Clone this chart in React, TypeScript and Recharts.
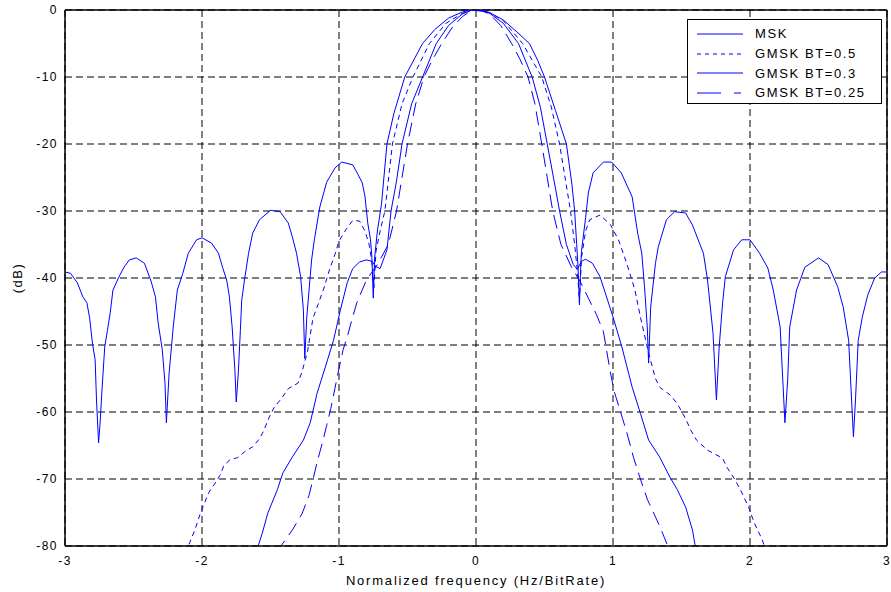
import React from "react";
import {
  LineChart,
  Line,
  XAxis,
  YAxis,
  CartesianGrid,
  ReferenceLine,
  Legend,
} from "recharts";

// frequency (normalized to bit rate) -> PSD in dB
const msk: [number, number][] = [
  [-3.0, -39.1], [-2.96, -39.3], [-2.91, -40.7], [-2.87, -42.8], [-2.84, -43.7],
  [-2.82, -46], [-2.8, -49.7], [-2.78, -52.2], [-2.77, -58.2], [-2.755, -64.6],
  [-2.745, -62], [-2.73, -56.7], [-2.71, -50.3], [-2.69, -47.8], [-2.67, -45.2],
  [-2.65, -41.8], [-2.61, -40], [-2.57, -38.4], [-2.53, -37.3], [-2.48, -37],
  [-2.42, -37.8], [-2.37, -40.6], [-2.34, -42.8], [-2.32, -46.7], [-2.29, -50.7],
  [-2.27, -55.7], [-2.26, -61.6], [-2.24, -54.2], [-2.21, -47.3], [-2.18, -41.8],
  [-2.14, -39.3], [-2.1, -36.3], [-2.04, -34.3], [-2.0, -34.0], [-1.93, -34.8],
  [-1.88, -36.3], [-1.85, -38.4], [-1.82, -40.3], [-1.8, -42.8], [-1.78, -47.3],
  [-1.76, -53.7], [-1.75, -58.5], [-1.735, -54.2], [-1.72, -47.8], [-1.71, -43.3],
  [-1.69, -40.3], [-1.66, -36.3], [-1.63, -33.3], [-1.58, -31.3], [-1.5, -29.9],
  [-1.43, -30.1], [-1.37, -31.8], [-1.34, -33.9], [-1.31, -36.3], [-1.28, -39.8],
  [-1.26, -44.8], [-1.25, -52], [-1.235, -45.8], [-1.2, -37.3], [-1.18, -34.3],
  [-1.14, -29.4], [-1.09, -25.7], [-1.03, -23.6], [-0.98, -22.7], [-0.9, -23.1],
  [-0.86, -24.6], [-0.83, -25.8], [-0.81, -27.9], [-0.79, -31.8], [-0.77, -34.3],
  [-0.76, -36.9], [-0.75, -43], [-0.74, -37], [-0.72, -33], [-0.69, -29],
  [-0.65, -20], [-0.6, -15.5], [-0.52, -10], [-0.45, -7.3], [-0.39, -5],
  [-0.3, -2.9], [-0.2, -1.2], [-0.1, -0.3], [-0.03, 0], [0.05, -0.1],
  [0.1, -0.4], [0.2, -1.5], [0.3, -3.3], [0.39, -5], [0.45, -7.5],
  [0.5, -10], [0.58, -15], [0.66, -20], [0.7, -26], [0.72, -30],
  [0.735, -35], [0.745, -38.5], [0.755, -44], [0.765, -38], [0.77, -36],
  [0.8, -31], [0.82, -27.3], [0.855, -24.3], [0.93, -22.7], [0.99, -22.7],
  [1.06, -24.3], [1.14, -27.9], [1.18, -33.3], [1.21, -36.3], [1.23, -41.3],
  [1.25, -47.3], [1.26, -52.7], [1.275, -44.3], [1.31, -37.8], [1.33, -35.4],
  [1.39, -31.3], [1.45, -30.1], [1.53, -30.3], [1.58, -32.1], [1.66, -36.3],
  [1.69, -40.3], [1.73, -48.2], [1.755, -58.2], [1.775, -50.3], [1.8, -43.7],
  [1.82, -39.8], [1.88, -35.8], [1.94, -34.3], [2.0, -34.3], [2.07, -36.3],
  [2.13, -38.5], [2.17, -41.8], [2.22, -47.3], [2.255, -61.6], [2.275, -55.2],
  [2.29, -47.3], [2.34, -41.8], [2.4, -38.4], [2.5, -37], [2.57, -38],
  [2.64, -41.3], [2.68, -44.3], [2.72, -49.3], [2.755, -63.7], [2.77, -58.2],
  [2.79, -49.3], [2.82, -45.8], [2.86, -42.5], [2.91, -40], [2.96, -39.1],
  [3.0, -39.1],
];

const gmsk05: [number, number][] = [
  [-2.12, -81], [-2.09, -79.5], [-2.05, -77.5], [-2.01, -75], [-1.98, -73.5],
  [-1.95, -72], [-1.91, -70.8], [-1.87, -69.5], [-1.84, -68], [-1.8, -67.2],
  [-1.74, -66.8], [-1.68, -65.8], [-1.63, -65.2], [-1.58, -64], [-1.55, -62.8],
  [-1.51, -60.8], [-1.47, -59.2], [-1.42, -58], [-1.37, -56.5], [-1.3, -55.7],
  [-1.27, -54], [-1.23, -51], [-1.19, -46], [-1.15, -43.8], [-1.11, -41.5],
  [-1.07, -38.8], [-1.03, -36.5], [-1.0, -34.5], [-0.95, -32.8], [-0.9, -31.4],
  [-0.85, -31.5], [-0.81, -33], [-0.78, -35], [-0.76, -37.5], [-0.745, -41.5],
  [-0.73, -36], [-0.7, -33], [-0.665, -30], [-0.61, -20], [-0.54, -14],
  [-0.46, -10], [-0.34, -5], [-0.22, -2], [-0.1, -0.5], [-0.03, 0],
  [0.05, -0.1], [0.1, -0.4], [0.2, -1.6], [0.34, -5], [0.48, -10],
  [0.55, -14.5], [0.61, -20], [0.69, -30], [0.72, -35], [0.74, -39],
  [0.755, -43.5], [0.77, -37], [0.8, -33], [0.83, -31.3], [0.905, -30.6],
  [0.98, -32], [1.04, -34.3], [1.1, -37.8], [1.16, -41.8], [1.2, -45.8],
  [1.26, -51.2], [1.31, -55], [1.34, -56.3], [1.42, -57.5], [1.47, -58.8],
  [1.53, -61], [1.57, -62.8], [1.61, -64.2], [1.69, -65.7], [1.8, -66.9],
  [1.83, -68.2], [1.89, -70.1], [1.93, -71.6], [1.99, -74.2], [2.03, -76.5],
  [2.09, -79.1], [2.12, -81],
];

const gmsk03: [number, number][] = [
  [-1.62, -81], [-1.59, -80], [-1.56, -78.1], [-1.52, -75.1], [-1.45, -71.6],
  [-1.41, -69.1], [-1.34, -66.7], [-1.26, -64.2], [-1.21, -61.6], [-1.16, -57.2],
  [-1.1, -53.3], [-1.04, -49.3], [-0.99, -44.8], [-0.94, -40.7], [-0.9, -38.6],
  [-0.85, -37.6], [-0.8, -37.3], [-0.76, -37.5], [-0.73, -38.3], [-0.7, -38.6],
  [-0.65, -35.8], [-0.62, -30], [-0.58, -25.5], [-0.54, -20], [-0.47, -14],
  [-0.39, -10], [-0.29, -5], [-0.2, -2.3], [-0.1, -0.6], [-0.03, 0],
  [0.05, -0.1], [0.1, -0.5], [0.2, -2], [0.31, -5], [0.41, -10],
  [0.47, -14.5], [0.52, -20], [0.57, -25.5], [0.61, -30], [0.66, -35],
  [0.71, -38], [0.74, -38.7], [0.77, -37.5], [0.8, -37.2], [0.85, -37.8],
  [0.905, -39.8], [1.0, -45.8], [1.065, -50.3], [1.14, -56.3], [1.2, -60.2],
  [1.26, -64.2], [1.34, -66.7], [1.42, -69.9], [1.47, -71.6], [1.53, -74.2],
  [1.58, -77.6], [1.6, -80], [1.62, -81],
];

const gmsk025: [number, number][] = [
  [-1.45, -81], [-1.42, -79.9], [-1.34, -77.6], [-1.27, -75.2], [-1.22, -72.5],
  [-1.19, -70.1], [-1.16, -67.5], [-1.12, -64.5], [-1.09, -62], [-1.06, -59.5],
  [-1.03, -56.5], [-1.0, -53.5], [-0.97, -50.7], [-0.94, -48.8], [-0.9, -45.8],
  [-0.87, -43.7], [-0.8, -40.3], [-0.72, -38], [-0.64, -35], [-0.58, -30],
  [-0.54, -25], [-0.5, -20], [-0.44, -14], [-0.38, -10], [-0.32, -7.5],
  [-0.25, -5], [-0.17, -2.5], [-0.1, -1], [-0.03, 0], [0.05, -0.2],
  [0.1, -0.6], [0.18, -2.3], [0.26, -5], [0.32, -7.3], [0.38, -10],
  [0.43, -14], [0.48, -20], [0.52, -25], [0.56, -30], [0.62, -35],
  [0.7, -38.5], [0.76, -40.5], [0.82, -43], [0.88, -45.5], [0.93, -48],
  [0.98, -54], [1.01, -57], [1.07, -61], [1.1, -63], [1.15, -66.8],
  [1.2, -70], [1.25, -73], [1.34, -77], [1.4, -80], [1.42, -81],
];

const freqTicks = [-3, -2, -1, 0, 1, 2, 3];
const dbTicks = [-80, -70, -60, -50, -40, -30, -20, -10, 0];

const BLUE = "#0000ff";
const FONT = '"Liberation Sans", Arial, Helvetica, sans-serif';

const series = [
  { name: "MSK", points: msk, dash: undefined as string | undefined, legendDash: undefined as string | undefined },
  { name: "GMSK BT=0.5", points: gmsk05, dash: "5 4", legendDash: "4 4" },
  { name: "GMSK BT=0.3", points: gmsk03, dash: undefined, legendDash: undefined },
  { name: "GMSK BT=0.25", points: gmsk025, dash: "14 7", legendDash: "24 13 7 2" },
];

const toRows = (pts: [number, number][]) => pts.map(([f, db]) => ({ f, db }));

const tickStyle = { fill: "#000", fontSize: 12, fontFamily: FONT, letterSpacing: 1.5 };

const LegendBox = () => (
  <div
    style={{
      border: "1px solid #000",
      background: "#fff",
      width: 195,
      height: 85,
      boxSizing: "border-box",
      padding: "4px 0 0 9px",
      fontFamily: FONT,
      fontSize: 13,
      letterSpacing: 1.6,
      color: "#000",
    }}
  >
    {series.map((s) => (
      <div key={s.name} style={{ display: "flex", alignItems: "center", height: 19.7 }}>
        <svg width={46} height={4} style={{ display: "block" }}>
          <line x1={0} y1={2} x2={46} y2={2} stroke={BLUE} strokeDasharray={s.legendDash} />
        </svg>
        <span style={{ marginLeft: 12, lineHeight: "19px" }}>{s.name}</span>
      </div>
    ))}
  </div>
);

export default function App() {
  return (
    <div style={{ position: "absolute", left: 0, top: 0, width: 891, height: 592, background: "#fff" }}>
      <LineChart width={891} height={592} margin={{ top: 10, right: 4, bottom: 0, left: 0 }}>
        <CartesianGrid stroke="#000" strokeDasharray="7 4" />
        <XAxis
          type="number"
          dataKey="f"
          domain={[-3, 3]}
          ticks={freqTicks}
          allowDataOverflow
          height={46}
          tickSize={0}
          tickMargin={10}
          tickLine={false}
          axisLine={{ stroke: "#000", strokeWidth: 1.5 }}
          tick={tickStyle}
          label={{
            value: "Normalized frequency (Hz/BitRate)",
            position: "insideBottom",
            offset: 7,
            fill: "#000",
            fontSize: 13,
            fontFamily: FONT,
            letterSpacing: 1.8,
          }}
        />
        <YAxis
          type="number"
          dataKey="db"
          domain={[-80, 0]}
          ticks={dbTicks}
          allowDataOverflow
          width={65}
          tickSize={0}
          tickMargin={7}
          tickLine={false}
          axisLine={{ stroke: "#000", strokeWidth: 1.5 }}
          tick={tickStyle}
          label={{
            content: (props: any) => {
              const vb = props.viewBox || { x: 0, y: 10, width: 65, height: 536 };
              const cx = vb.x + 17;
              const cy = vb.y + vb.height / 2;
              return (
                <text
                  x={cx}
                  y={cy}
                  transform={`rotate(-90 ${cx} ${cy})`}
                  textAnchor="middle"
                  dominantBaseline="central"
                  fill="#000"
                  fontSize={13}
                  fontFamily={FONT}
                  letterSpacing={1.5}
                >
                  (dB)
                </text>
              );
            },
          }}
        />
        <ReferenceLine y={0} stroke="#000" strokeWidth={1.5} />
        <ReferenceLine x={3} stroke="#000" strokeWidth={1.5} />
        {series.map((s) => (
          <Line
            key={s.name}
            data={toRows(s.points)}
            dataKey="db"
            name={s.name}
            type="linear"
            stroke={BLUE}
            strokeWidth={1}
            strokeDasharray={s.dash}
            dot={false}
            activeDot={false}
            isAnimationActive={false}
          />
        ))}
        <Legend
          layout="horizontal"
          verticalAlign="middle"
          align="center"
          wrapperStyle={{ left: 687, top: 19, width: 195, height: 85 }}
          content={() => <LegendBox />}
        />
      </LineChart>
    </div>
  );
}
